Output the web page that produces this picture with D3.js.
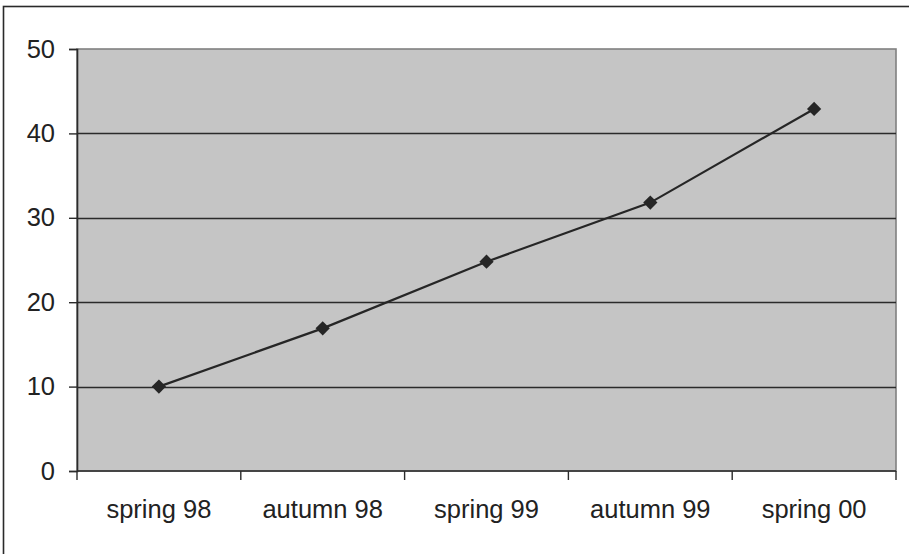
<!DOCTYPE html>
<html>
<head>
<meta charset="utf-8">
<script src="https://cdn.jsdelivr.net/npm/d3@7"></script>
<style>
  html, body { margin: 0; padding: 0; background: #fff; }
  svg { display: block; }
</style>
</head>
<body>
<svg id="chart" width="909" height="554"></svg>
<script>
// Survey periods and measured values
const categories = ["spring 98", "autumn 98", "spring 99", "autumn 99", "spring 00"];
const values = [10, 16.9, 24.8, 31.8, 42.9];
const yTicks = [0, 10, 20, 30, 40, 50];

const svg = d3.select("#chart");
const W = 909, H = 554;
const plot = { left: 77, top: 49, right: 896, bottom: 471 };
const font = "'Liberation Sans', Arial, sans-serif";

// Outer frame
svg.append("rect")
  .attr("x", 3.5).attr("y", 6.5)
  .attr("width", W + 10).attr("height", H + 10)
  .attr("fill", "#fff")
  .attr("stroke", "#2a2a2a").attr("stroke-width", 1.6);

const x = d3.scaleBand().domain(categories)
  .range([plot.left, plot.right]).paddingInner(0).paddingOuter(0);
const y = d3.scaleLinear().domain([0, 50]).range([plot.bottom, plot.top]);

// Plot background
svg.append("rect")
  .attr("x", plot.left).attr("y", plot.top)
  .attr("width", plot.right - plot.left).attr("height", plot.bottom - plot.top)
  .attr("fill", "#c5c5c5")
  .attr("stroke", "#808080").attr("stroke-width", 1.6);

// Horizontal gridlines
svg.append("g").selectAll("line")
  .data(yTicks.filter(t => t > 0 && t < 50))
  .join("line")
  .attr("x1", plot.left).attr("x2", plot.right)
  .attr("y1", d => Math.round(y(d)) + 0.5).attr("y2", d => Math.round(y(d)) + 0.5)
  .attr("stroke", "#2b2b2b").attr("stroke-width", 1.3);

// Y axis
const yAxis = d3.axisLeft(y).tickValues(yTicks).tickSize(8).tickPadding(14)
  .tickFormat(d3.format("d"));
const gy = svg.append("g").attr("transform", `translate(${plot.left},0)`).call(yAxis);
gy.select(".domain").attr("stroke", "#2b2b2b").attr("stroke-width", 1.6);
gy.selectAll(".tick line").attr("stroke", "#2b2b2b").attr("stroke-width", 1.4);
gy.selectAll(".tick text")
  .attr("font-family", font).attr("font-size", 25.5).attr("fill", "#222");

// X axis: ticks sit on category boundaries
const boundaries = categories.map(c => x(c)).concat([plot.right]);
const gx = svg.append("g").attr("transform", `translate(0,${plot.bottom})`);
gx.append("line")
  .attr("x1", plot.left).attr("x2", plot.right)
  .attr("y1", 0).attr("y2", 0)
  .attr("stroke", "#2b2b2b").attr("stroke-width", 1.6);
gx.selectAll("line.tk").data(boundaries).join("line")
  .attr("class", "tk")
  .attr("x1", d => d).attr("x2", d => d)
  .attr("y1", 0).attr("y2", 9)
  .attr("stroke", "#2b2b2b").attr("stroke-width", 1.4);
gx.selectAll("text").data(categories).join("text")
  .attr("x", d => x(d) + x.bandwidth() / 2)
  .attr("y", 47)
  .attr("text-anchor", "middle")
  .attr("font-family", font).attr("font-size", 25.5).attr("fill", "#222")
  .text(d => d);

// Series line
const pts = categories.map((c, i) => [x(c) + x.bandwidth() / 2, y(values[i])]);
svg.append("path")
  .attr("d", d3.line()(pts))
  .attr("fill", "none")
  .attr("stroke", "#262626").attr("stroke-width", 2.2);

// Diamond markers
svg.append("g").selectAll("path")
  .data(pts)
  .join("path")
  .attr("transform", d => `translate(${d[0]},${d[1]})`)
  .attr("d", d3.symbol(d3.symbolDiamond2, 130))
  .attr("fill", "#262626");
</script>
</body>
</html>
